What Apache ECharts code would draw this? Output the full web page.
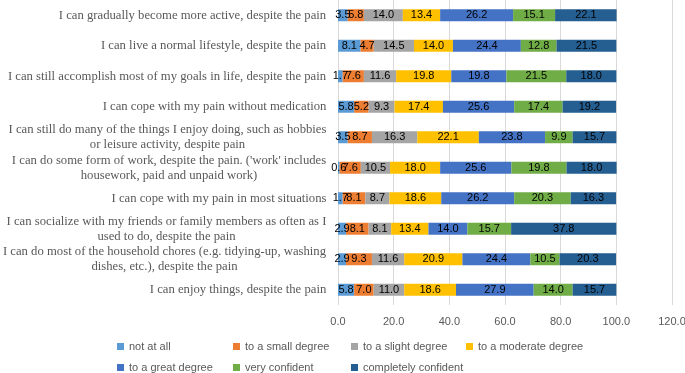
<!DOCTYPE html>
<html>
<head>
<meta charset="utf-8">
<script src="https://cdn.jsdelivr.net/npm/echarts@6/dist/echarts.min.js"></script>
<style>
  html, body { margin: 0; padding: 0; background: #fff; }
  #chart { width: 685px; height: 373px; }
</style>
</head>
<body>
<div id="chart"></div>
<script>
// statements, top to bottom as shown
const statements = [
  "I can gradually become more active, despite the pain",
  "I can live a normal lifestyle, despite the pain",
  "I can still accomplish most of my goals in life, despite the pain",
  "I can cope with my pain without medication",
  "I can still do many of the things I enjoy doing, such as hobbies\nor leisure activity, despite pain",
  "I can do some form of work, despite the pain. ('work' includes\nhousework, paid and unpaid work)",
  "I can cope with my pain in most situations",
  "I can socialize with my friends or family members as often as I\nused to do, despite the pain",
  "I can do most of the household chores (e.g. tidying-up, washing\ndishes, etc.), despite the pain",
  "I can enjoy things, despite the pain"
];

const seriesNames = [
  "not at all", "to a small degree", "to a slight degree", "to a moderate degree",
  "to a great degree", "very confident", "completely confident"
];

// percentages per answer level
const notAtAll     = [3.5, 8.1, 1.7, 5.8, 3.5, 0.6, 1.7, 2.9, 2.9, 5.8];
const smallDegree  = [5.8, 4.7, 7.6, 5.2, 8.7, 7.6, 8.1, 8.1, 9.3, 7.0];
const slightDegree = [14.0, 14.5, 11.6, 9.3, 16.3, 10.5, 8.7, 8.1, 11.6, 11.0];
const modDegree    = [13.4, 14.0, 19.8, 17.4, 22.1, 18.0, 18.6, 13.4, 20.9, 18.6];
const greatDegree  = [26.2, 24.4, 19.8, 25.6, 23.8, 25.6, 26.2, 14.0, 24.4, 27.9];
const veryConf     = [15.1, 12.8, 21.5, 17.4, 9.9, 19.8, 20.3, 15.7, 10.5, 14.0];
const completeConf = [22.1, 21.5, 18.0, 19.2, 15.7, 18.0, 16.3, 37.8, 20.3, 15.7];

const xTicks = [0, 20, 40, 60, 80, 100, 120];

const colors = ["#5B9BD5", "#ED7D31", "#A5A5A5", "#FFC000", "#4472C4", "#70AD47", "#255E91"];
const allData = [notAtAll, smallDegree, slightDegree, modDegree, greatDegree, veryConf, completeConf];

const labelFont = '"Liberation Serif", serif';
const labelSize = 12.7;

// measure widest line so wrapped labels can be centred line by line
const ctx = document.createElement("canvas").getContext("2d");
ctx.font = labelSize + "px " + labelFont;
const rich = {};
statements.forEach((s, i) => {
  const w = Math.max(...s.split("\n").map(l => ctx.measureText(l).width));
  rich["c" + i] = {
    width: Math.ceil(w) + 1,
    align: "center",
    fontFamily: labelFont,
    fontSize: labelSize,
    lineHeight: 15,
    color: "#595959"
  };
});

// legend laid out as a 4-column grid, one legend per item
const legendCols = [117, 233, 351, 466];
const legends = seriesNames.map((name, k) => ({
  data: [name],
  left: legendCols[k % 4],
  top: k < 4 ? 341 : 362,
  padding: 0,
  itemWidth: 7, itemHeight: 7,
  icon: "rect",
  textStyle: { color: "#595959", fontSize: 11, fontFamily: "Liberation Sans" }
}));

const chart = echarts.init(document.getElementById("chart"));

const option = {
  animation: false,
  color: colors,
  grid: { left: 338, right: 13, top: 0, bottom: 68, containLabel: false, outerBoundsMode: "none" },
  legend: legends,
  xAxis: {
    type: "value",
    min: 0, max: 120, interval: 20,
    axisLine: { show: false },
    axisTick: { show: false },
    axisLabel: {
      color: "#595959", fontSize: 11, fontFamily: "Liberation Sans", margin: 11,
      formatter: v => xTicks.includes(v) ? v.toFixed(1) : ""
    },
    splitLine: { lineStyle: { color: "#D9D9D9" } }
  },
  yAxis: {
    type: "category",
    inverse: true,
    data: statements,
    axisLine: { show: false },
    axisTick: { show: false },
    axisLabel: {
      margin: 11,
      formatter: (v, i) => "{c" + i + "|" + v + "}",
      rich: rich
    }
  },
  series: allData.map((d, k) => ({
    name: seriesNames[k],
    type: "bar",
    stack: "total",
    barWidth: 12,
    data: d,
    label: {
      show: true,
      position: "inside",
      color: "#000",
      fontSize: 11,
      fontFamily: "Liberation Sans",
      formatter: p => p.value.toFixed(1)
    }
  }))
};

chart.setOption(option);
</script>
</body>
</html>
